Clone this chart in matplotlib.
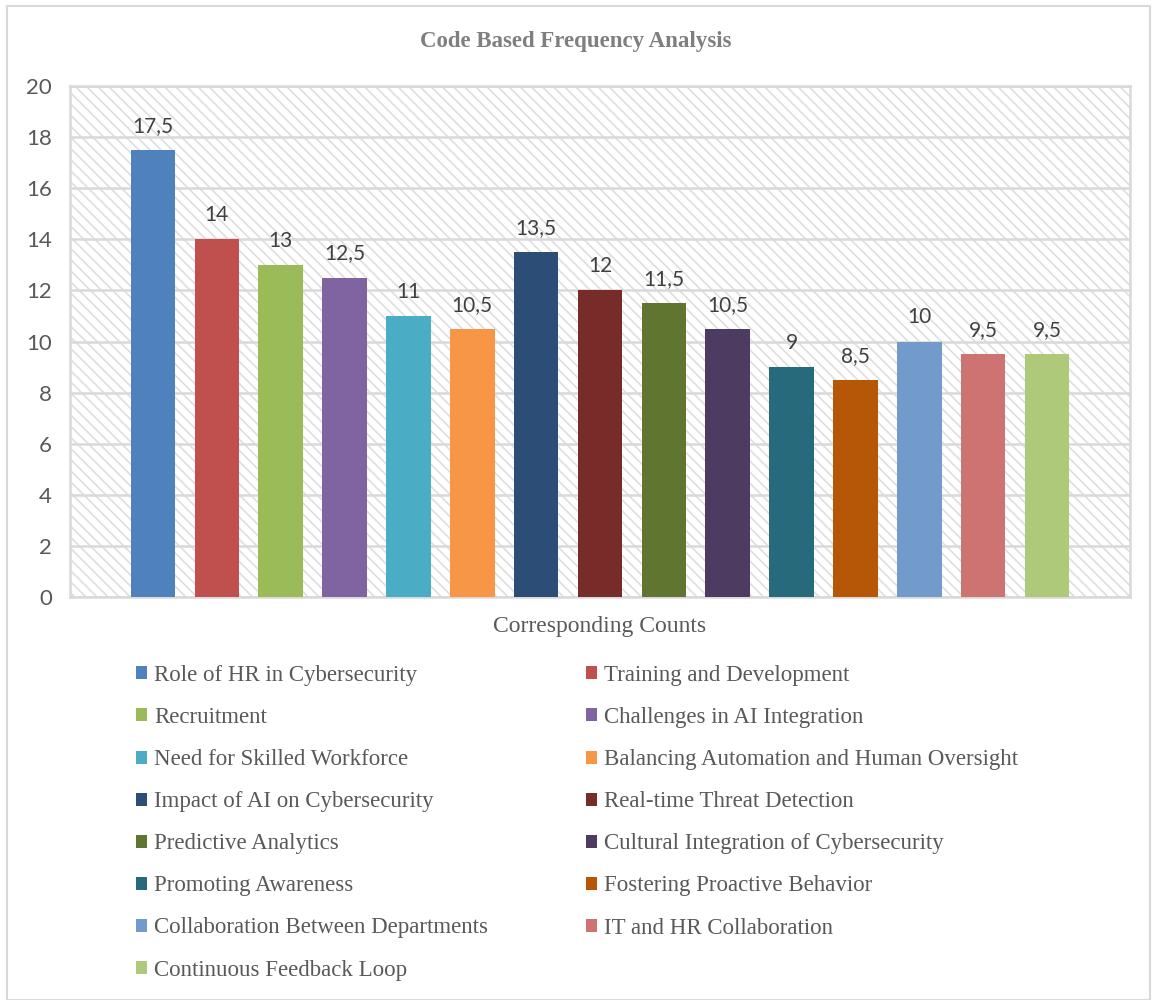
import matplotlib.pyplot as plt
from matplotlib.patches import Rectangle, Patch

categories = ['Role of HR in Cybersecurity', 'Training and Development', 'Recruitment',
              'Challenges in AI Integration', 'Need for Skilled Workforce',
              'Balancing Automation and Human Oversight', 'Impact of AI on Cybersecurity',
              'Real-time Threat Detection', 'Predictive Analytics',
              'Cultural Integration of Cybersecurity', 'Promoting Awareness',
              'Fostering Proactive Behavior', 'Collaboration Between Departments',
              'IT and HR Collaboration', 'Continuous Feedback Loop']
counts = [17.5, 14, 13, 12.5, 11, 10.5, 13.5, 12, 11.5, 10.5, 9, 8.5, 10, 9.5, 9.5]
colors = ['#4F81BD', '#C0504D', '#9BBB59', '#8064A2', '#4BACC6', '#F79646',
          '#2C4D75', '#772C2A', '#5F7530', '#4D3B62', '#276A7C', '#B65708',
          '#729ACA', '#CD7371', '#AFC97A']
yticks = [0, 2, 4, 6, 8, 10, 12, 14, 16, 18, 20]

serif = 'Liberation Serif'
sans = 'Lato'
grid_c = '#d9d9d9'

plt.rcParams['hatch.linewidth'] = 1.2
fig = plt.figure(figsize=(11.52, 10), dpi=100)
fig.patches.append(Rectangle((0.006, 0.0), 0.992, 0.994, transform=fig.transFigure,
                             fill=False, edgecolor=grid_c, linewidth=1.5))

ax = fig.add_axes([70 / 1152, 1 - 597 / 1000, 1060 / 1152, 511 / 1000])
ax.add_patch(Rectangle((0, 0), 1, 1, transform=ax.transAxes, facecolor='white',
                       edgecolor='#dedede', hatch='\\\\\\', linewidth=0, zorder=0))

x = list(range(len(counts)))
bars = ax.bar(x, counts, width=0.70, color=colors, zorder=3)
for xi, v in zip(x, counts):
    lab = ('%g' % v).replace('.', ',')
    ax.text(xi, v + 0.55, lab, ha='center', va='bottom', fontsize=15,
            family=sans, color='#404040', zorder=4)

ax.set_xlim(-1.30, len(counts) - 1 + 1.30)
ax.set_ylim(0, 20)
ax.set_yticks(yticks)
ax.set_yticklabels([str(t) for t in yticks], fontsize=16, family=sans, color='#595959')
ax.set_xticks([])
ax.yaxis.grid(True, color=grid_c, linewidth=1.8, zorder=1)
ax.set_axisbelow(True)
ax.tick_params(axis='y', length=0, pad=13)
for s in ax.spines.values():
    s.set_color(grid_c)
    s.set_linewidth(1.8)

ax.set_xlabel('Corresponding Counts', fontsize=17, family=serif, color='#595959', labelpad=14)
fig.text(0.5, 1 - 42 / 1000, 'Code Based Frequency Analysis', ha='center', va='center',
         fontsize=16.5, fontweight='bold', family=serif, color='#7f7f7f')

handles = [Patch(facecolor=c, edgecolor='none') for c in colors]
order = list(range(0, 15, 2)) + list(range(1, 15, 2))
leg = fig.legend([handles[i] for i in order], [categories[i] for i in order],
                 loc='upper left', bbox_to_anchor=(136 / 1152, 1 - 665 / 1000),
                 ncol=2, frameon=False, prop={'family': serif, 'size': 16.5},
                 handlelength=0.5, handleheight=0.5, handletextpad=0.3,
                 columnspacing=4.25, labelspacing=0.92, borderpad=0, borderaxespad=0)
for t in leg.get_texts():
    t.set_color('#595959')

fig.savefig('out.png', dpi=100)
